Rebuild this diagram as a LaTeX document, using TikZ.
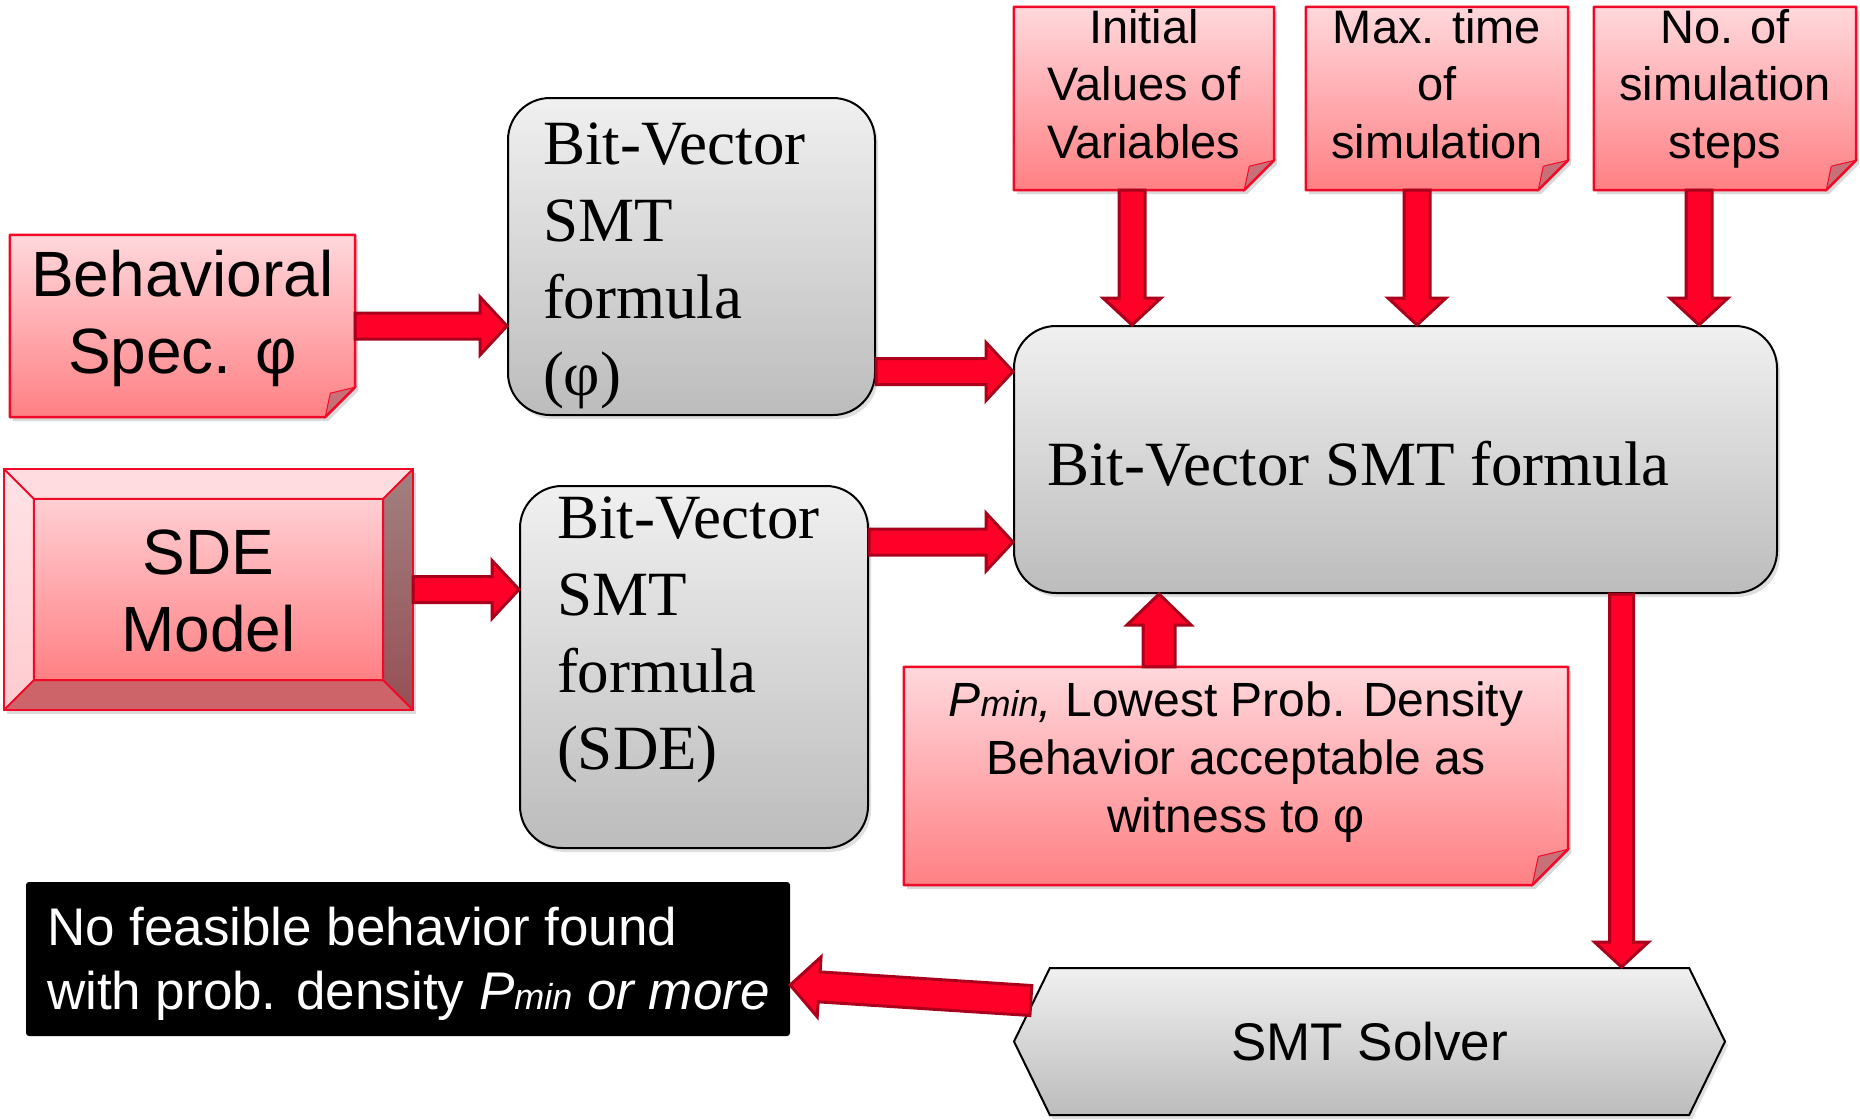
\documentclass[tikz,border=0pt]{standalone}
\usepackage{fontspec}
\setmainfont{Liberation Serif}
\setsansfont{Liberation Sans}
\usetikzlibrary{calc}
\usetikzlibrary{positioning}
\usetikzlibrary{shapes.symbols}
\usetikzlibrary{shadows}
\usetikzlibrary{backgrounds}
\definecolor{notetop}{RGB}{255,216,220}
\definecolor{notebot}{RGB}{255,128,132}
\definecolor{notered}{RGB}{240,10,40}
\definecolor{notefold}{RGB}{200,112,120}
\definecolor{boxtop}{RGB}{240,240,240}
\definecolor{boxbot}{RGB}{188,188,188}
\definecolor{arrowred}{RGB}{255,0,40}
\definecolor{arrowdark}{RGB}{170,0,28}
\definecolor{beveltop}{RGB}{255,220,224}
\definecolor{bevelbot}{RGB}{205,100,105}

% block arrow between two points
\tikzset{
  fa shaft/.store in=\fashaft, fa head/.store in=\fahead, fa len/.store in=\falen,
  fa shaft=13pt, fa head=29pt, fa len=27pt,
  fatarrow/.style={draw=arrowdark, fill=arrowred, line width=3pt, line join=miter,
    to path={
      ($(\tikztotarget)!\falen!(\tikztostart)$) coordinate (fac)
      ($(\tikztostart)!\fashaft!90:(\tikztotarget)$)
      -- ($(fac)!\fashaft!90:(\tikztotarget)$)
      -- ($(fac)!\fahead!90:(\tikztotarget)$)
      -- (\tikztotarget)
      -- ($(fac)!\fahead!-90:(\tikztotarget)$)
      -- ($(fac)!\fashaft!-90:(\tikztotarget)$)
      -- ($(\tikztostart)!\fashaft!-90:(\tikztotarget)$)
      -- cycle}}
}

% sticky note behind a node
\newcommand\notebg[2]{%
  \fill[black, opacity=.15] ([xshift=3pt,yshift=-4pt]#1.north west)
    -- ([xshift=3pt,yshift=-4pt]#1.north east)
    -- ([xshift=3pt,yshift=#2-4pt]#1.south east)
    -- ([xshift=-#2+3pt,yshift=-4pt]#1.south east)
    -- ([xshift=3pt,yshift=-4pt]#1.south west) -- cycle;
  \shade[top color=notetop, bottom color=notebot] (#1.north west)
    -- (#1.north east) -- ([yshift=#2]#1.south east)
    -- ([xshift=-#2]#1.south east) -- (#1.south west) -- cycle;
  \filldraw[notefold, draw=notered, line width=1pt] ([xshift=-#2]#1.south east)
    -- ([xshift=-0.83*#2,yshift=0.8*#2]#1.south east)
    -- ([yshift=#2]#1.south east) -- cycle;
  \draw[notered, line width=2.5pt, line join=round] (#1.north west)
    -- (#1.north east) -- ([yshift=#2]#1.south east)
    -- ([xshift=-#2]#1.south east) -- (#1.south west) -- cycle;
}

% bevelled button behind a node
\newcommand\bevelbg[2]{%
  \fill[black, opacity=.15] ([xshift=3pt,yshift=-4pt]#1.north west)
    rectangle ([xshift=3pt,yshift=-4pt]#1.south east);
  \fill[beveltop] (#1.north west) -- (#1.north east)
    -- ([xshift=-#2,yshift=-#2]#1.north east) -- ([xshift=#2,yshift=-#2]#1.north west) -- cycle;
  \shade[top color=beveltop!80!white, bottom color=notetop!85!notebot] (#1.north west)
    -- ([xshift=#2,yshift=-#2]#1.north west) -- ([xshift=#2,yshift=#2]#1.south west)
    -- (#1.south west) -- cycle;
  \shade[top color={rgb,255:red,162;green,128;blue,128}, bottom color={rgb,255:red,150;green,80;blue,85}]
    (#1.north east) -- (#1.south east)
    -- ([xshift=-#2,yshift=#2]#1.south east) -- ([xshift=-#2,yshift=-#2]#1.north east) -- cycle;
  \fill[bevelbot] (#1.south west) -- ([xshift=#2,yshift=#2]#1.south west)
    -- ([xshift=-#2,yshift=#2]#1.south east) -- (#1.south east) -- cycle;
  \shade[top color=notetop!90!notebot, bottom color=notebot]
    ([xshift=#2,yshift=-#2]#1.north west) rectangle ([xshift=-#2,yshift=#2]#1.south east);
  \draw[notered, line width=2pt]
    ([xshift=#2,yshift=-#2]#1.north west) rectangle ([xshift=-#2,yshift=#2]#1.south east)
    (#1.north west) -- ([xshift=#2,yshift=-#2]#1.north west)
    (#1.north east) -- ([xshift=-#2,yshift=-#2]#1.north east)
    (#1.south west) -- ([xshift=#2,yshift=#2]#1.south west)
    (#1.south east) -- ([xshift=-#2,yshift=#2]#1.south east);
  \draw[notered, line width=2.5pt] (#1.north west) rectangle (#1.south east);
}

\begin{document}
\begin{tikzpicture}[x=1pt, y=-1pt,
  note/.style={inner sep=0pt},
  graybox/.style={inner sep=0pt, draw=black, line width=2pt, rounded corners=42pt,
    top color=boxtop, bottom color=boxbot,
    drop shadow={opacity=.25, shadow xshift=3pt, shadow yshift=-4pt}},
  solver/.style={signal, signal to=west and east, signal pointer angle=128,
    draw=black, line width=2pt, top color=boxtop, bottom color=boxbot,
    minimum width=711pt, minimum height=147pt, inner sep=0pt,
    drop shadow={opacity=.25, shadow xshift=3pt, shadow yshift=-4pt}},
  result/.style={inner sep=0pt, fill=black, text=white, rounded corners=3pt}]

\path[use as bounding box] (0,0) rectangle (1860,1119);

%---------------------------------------
% Inputs on the left
%---------------------------------------
\node[note, font=\sffamily\fontsize{64}{77}\selectfont] (spec) at (182.5,326)
  {\parbox[c][182pt][t]{345pt}{\centering\vspace*{15pt}Behavioral\\Spec. φ}};
\node[note, font=\sffamily\fontsize{64}{77}\selectfont] (sde) at (208.5,589.5)
  {\parbox[c][241pt][t]{409pt}{\centering\vspace*{61pt}SDE\\Model}};

%---------------------------------------
% Bit-vector formulas
%---------------------------------------
\node[graybox, font=\rmfamily\fontsize{63}{77}\selectfont] (bv1) at (691.5,256.5)
  {\parbox[c][317pt][t]{367pt}{\raggedright\leftskip=35pt\vspace*{25pt}Bit-Vector\\SMT\\formula\\(φ)}};
\node[graybox, font=\rmfamily\fontsize{63}{77}\selectfont] (bv2) at (694,667)
  {\parbox[c][362pt][t]{348pt}{\raggedright\leftskip=37pt\vspace*{11pt}Bit-Vector\\SMT\\formula\\(SDE)}};
\node[graybox, font=\rmfamily\fontsize{63}{77}\selectfont] (big) at (1395.5,459.5)
  {\parbox[c][267pt][t]{763pt}{\raggedright\leftskip=33pt\vspace*{115pt}Bit-Vector SMT formula}};

%---------------------------------------
% Simulation parameters
%---------------------------------------
\node[note, font=\sffamily\fontsize{47}{57.5}\selectfont] (n1) at (1144,98.5)
  {\parbox[c][183pt][t]{260pt}{\centering\vspace*{2pt}Initial\\Values of\\Variables}};
\node[note, font=\sffamily\fontsize{47}{57.5}\selectfont] (n2) at (1437,98.5)
  {\parbox[c][183pt][t]{262pt}{\centering\vspace*{2pt}Max. time\\of\\simulation}};
\node[note, font=\sffamily\fontsize{47}{57.5}\selectfont] (n3) at (1725,98.5)
  {\parbox[c][183pt][t]{262pt}{\centering\vspace*{2pt}No. of\\simulation\\steps}};
\node[note, font=\sffamily\fontsize{48}{58}\selectfont] (pmin) at (1236,776)
  {\parbox[c][218pt][t]{664pt}{\centering\vspace*{15pt}\textit{P{\fontsize{36}{36}\selectfont min},} Lowest Prob. Density\\Behavior acceptable as\\witness to φ}};

%---------------------------------------
% Solver and outcome
%---------------------------------------
\node[solver, font=\sffamily\fontsize{53}{64}\selectfont] (smt) at (1369.5,1041.5) {SMT Solver};
\node[result, font=\sffamily\fontsize{53}{64}\selectfont] (blk) at (408,959)
  {\parbox[c][154pt][t]{764pt}{\raggedright\leftskip=21pt\vspace*{25pt}No feasible behavior found\\with prob. density \textit{P{\fontsize{36}{36}\selectfont min} or more}}};

\begin{scope}[on background layer]
  \fill[white] (0,0) rectangle (1860,1119);
  \notebg{spec}{30pt}
  \bevelbg{sde}{30pt}
  \notebg{n1}{30pt}
  \notebg{n2}{30pt}
  \notebg{n3}{30pt}
  \notebg{pmin}{36pt}
\end{scope}

% arrow ends
\coordinate (b1out) at ([yshift=-115pt]bv1.east);
\coordinate (b2out) at ([yshift=125pt]bv2.east);
\coordinate (n1out) at ([xshift=-12pt]n1.south);
\coordinate (n2out) at ([xshift=-20pt]n2.south);
\coordinate (n3out) at ([xshift=-26pt]n3.south);
\coordinate (pout) at ([xshift=-77pt]pmin.north);
\coordinate (bigout) at ([xshift=226pt]big.south);
\coordinate (smtout) at ([xshift=18pt,yshift=41pt]smt.west);
\coordinate (blkin) at ([yshift=-26pt]blk.east);

\path[fatarrow] (spec.east) to (spec.east -| bv1.west);
\path[fatarrow] (sde.east) to (sde.east -| bv2.west);
\path[fatarrow] (b1out) to (b1out -| big.west);
\path[fatarrow] (b2out) to (b2out -| big.west);
\path[fatarrow] (n1out) to (n1out |- big.north);
\path[fatarrow] (n2out) to (n2out |- big.north);
\path[fatarrow] (n3out) to (n3out |- big.north);
\path[fatarrow, fa shaft=16pt, fa head=32pt, fa len=31pt] (pout) to (pout |- big.south);
\path[fatarrow, fa shaft=12pt, fa head=27pt, fa len=25pt] (bigout) to (bigout |- smt.north);
\path[fatarrow, fa shaft=15pt, fa head=30pt, fa len=29pt] (smtout) to (blkin);

\end{tikzpicture}
\end{document}
